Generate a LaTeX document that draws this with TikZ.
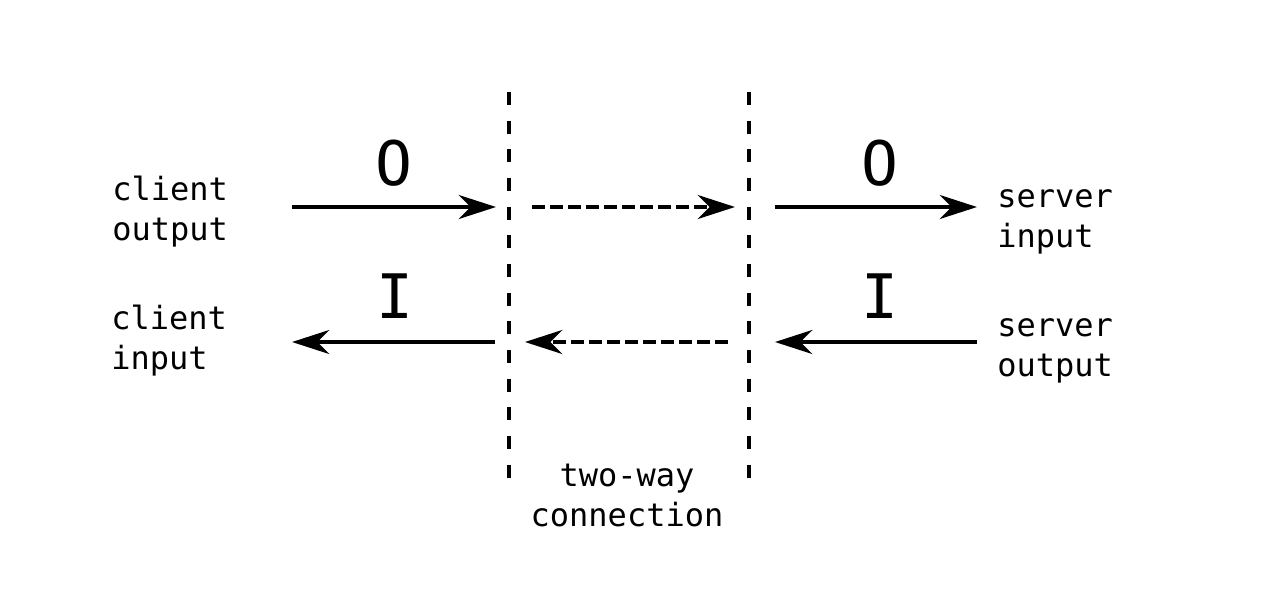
\documentclass[tikz,border=0pt]{standalone}
\usepackage{fontspec}
\setmonofont{DejaVu Sans Mono}
\usetikzlibrary{arrows.meta}
\begin{document}
\begin{tikzpicture}[x=0.75pt,y=-0.75pt,
  lbl/.style={font=\ttfamily\fontsize{24}{29.5}\selectfont,align=left,inner sep=0pt,anchor=base west},
  big/.style={font=\ttfamily\fontsize{46}{50}\selectfont,inner sep=0pt,anchor=base},
  arr/.style={line width=3.2pt,-{Stealth[length=28pt,width=18pt,inset=9pt]}},
  darr/.style={arr,dash pattern=on 9.75pt off 3.75pt},
  wall/.style={line width=3pt,dash pattern=on 9.75pt off 11.75pt}]
\useasboundingbox (0,0) rectangle (1280,597);
% walls
\coordinate (wlt) at (509,92); \coordinate (wlb) at (509,479);
\coordinate (wrt) at (749,92); \coordinate (wrb) at (749,479);
\draw[wall] (wlt) -- (wlb);
\draw[wall] (wrt) -- (wrb);
% arrow end points
\coordinate (a1s) at (292,207); \coordinate (a1e) at (496,207);
\coordinate (a2s) at (532,207); \coordinate (a2e) at (735,207);
\coordinate (a3s) at (775,207); \coordinate (a3e) at (977,207);
\coordinate (b1s) at (495,342); \coordinate (b1e) at (292,342);
\coordinate (b2s) at (728,342); \coordinate (b2e) at (525,342);
\coordinate (b3s) at (977,342); \coordinate (b3e) at (775,342);
\draw[arr] (a1s) -- (a1e);
\draw[darr] (a2s) -- (a2e);
\draw[arr] (a3s) -- (a3e);
\draw[arr] (b1s) -- (b1e);
\draw[darr] (b2s) -- (b2e);
\draw[arr] (b3s) -- (b3e);
% labels
\node[big] (o1) at (394,185) {O};
\node[big] (o2) at (880,185) {O};
\node[big] (i1) at (395,318) {I};
\node[big] (i2) at (880,318) {I};
\node[lbl] (co) at (112,240) {client\\output};
\node[lbl] (ci) at (111,369) {client\\input};
\node[lbl] (si) at (997,247) {server\\input};
\node[lbl] (so) at (997,376) {server\\output};
\node[lbl,align=center,anchor=base] (tw) at (627,526) {two-way\\connection};
\end{tikzpicture}
\end{document}
